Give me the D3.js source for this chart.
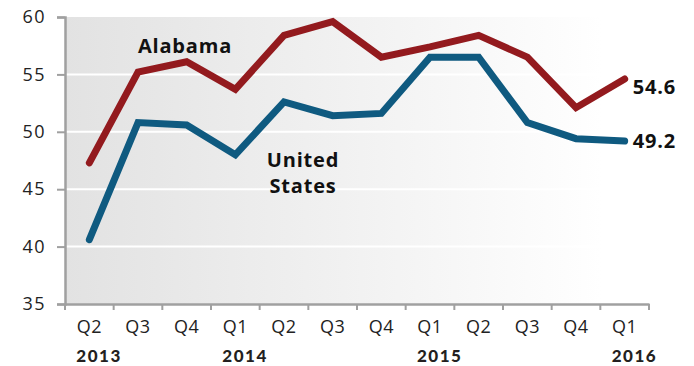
<!DOCTYPE html>
<meta charset="utf-8">
<script src="https://d3js.org/d3.v7.min.js"></script>
<style>
  body { margin: 0; background: #fff; }
  text { font-family: "Open Sans", sans-serif; }
</style>
<svg id="chart" width="694" height="366"></svg>
<script>
    // Data
    const quarters = ["Q2", "Q3", "Q4", "Q1", "Q2", "Q3", "Q4", "Q1", "Q2", "Q3", "Q4", "Q1"];
    const years = ["2013", "", "", "2014", "", "", "", "2015", "", "", "", "2016"];
    const alabama = [47.3, 55.2, 56.1, 53.7, 58.4, 59.6, 56.5, 57.4, 58.4, 56.5, 52.1, 54.6];
    const unitedStates = [40.6, 50.8, 50.6, 48.0, 52.6, 51.4, 51.6, 56.5, 56.5, 50.8, 49.4, 49.2];
    const yTicks = [35, 40, 45, 50, 55, 60];

    const svg = d3.select("#chart");
    const plotLeft = 65, plotRight = 649, plotTop = 17, plotBottom = 304;

    const x = d3.scaleBand()
      .domain(d3.range(quarters.length))
      .range([plotLeft, plotRight]);
    const y = d3.scaleLinear()
      .domain([35, 60])
      .range([plotBottom, plotTop]);

    // background gradient
    const grad = svg.append("defs").append("linearGradient")
      .attr("id", "bg")
      .attr("x1", "0%").attr("x2", "100%");
    grad.append("stop").attr("offset", "0%").attr("stop-color", "#e2e2e2");
    grad.append("stop").attr("offset", "92%").attr("stop-color", "#ffffff");

    svg.append("rect")
      .attr("x", plotLeft).attr("y", plotTop)
      .attr("width", plotRight - plotLeft).attr("height", plotBottom - plotTop)
      .attr("fill", "url(#bg)");

    // gridlines
    svg.append("g")
      .selectAll("line")
      .data(yTicks.slice(1, -1))
      .join("line")
        .attr("x1", plotLeft).attr("x2", plotRight)
        .attr("y1", d => y(d)).attr("y2", d => y(d))
        .attr("stroke", "#fff")
        .attr("stroke-width", 2);

    // y axis
    const yAxis = svg.append("g")
      .attr("transform", `translate(${plotLeft},0)`)
      .call(d3.axisLeft(y).tickValues(yTicks).tickSize(8).tickPadding(11));
    yAxis.select(".domain").attr("stroke", "#a0a0a0").attr("stroke-width", 2.5);
    yAxis.selectAll(".tick line").attr("stroke", "#a0a0a0").attr("stroke-width", 2);
    yAxis.selectAll("text").attr("font-size", 18).attr("fill", "#222")
      .attr("letter-spacing", 1.5)
      .style("font-family", "'Open Sans', sans-serif");

    // x axis
    const xAxis = svg.append("g")
      .attr("transform", `translate(0,${plotBottom})`)
      .call(d3.axisBottom(x).tickSize(0).tickFormat(i => quarters[i]).tickPadding(16));
    xAxis.select(".domain").attr("stroke", "#a0a0a0").attr("stroke-width", 2.5);
    xAxis.selectAll("text").attr("font-size", 18).attr("fill", "#222")
      .attr("letter-spacing", 0.5)
      .style("font-family", "'Open Sans', sans-serif");

    // x tick marks at band boundaries
    svg.append("g")
      .selectAll("line")
      .data(d3.range(quarters.length + 1))
      .join("line")
        .attr("x1", i => plotLeft + i * x.bandwidth())
        .attr("x2", i => plotLeft + i * x.bandwidth())
        .attr("y1", plotBottom).attr("y2", plotBottom + 6)
        .attr("stroke", "#a0a0a0")
        .attr("stroke-width", 2);

    // year labels
    svg.append("g")
      .selectAll("text")
      .data(years.map((t, i) => ({t, i})).filter(d => d.t))
      .join("text")
        .attr("x", d => x(d.i) + x.bandwidth() / 2 - 13)
        .attr("y", 362)
        .attr("font-size", 17)
        .attr("font-weight", 900)
        .attr("letter-spacing", 1.5)
        .attr("fill", "#231f20")
        .style("font-family", "Lato, sans-serif")
        .text(d => d.t);

    // lines
    const line = d3.line()
      .x((d, i) => x(i) + x.bandwidth() / 2)
      .y(d => y(d));

    svg.append("path")
      .datum(alabama)
      .attr("d", line)
      .attr("fill", "none")
      .attr("stroke", "#931a1e")
      .attr("stroke-width", 7)
      .attr("stroke-linecap", "round")
      .attr("stroke-linejoin", "miter");

    svg.append("path")
      .datum(unitedStates)
      .attr("d", line)
      .attr("fill", "none")
      .attr("stroke", "#0f5a80")
      .attr("stroke-width", 7)
      .attr("stroke-linecap", "round")
      .attr("stroke-linejoin", "miter");

    // labels
    const lbl = (tx, ty, t, anchor) => svg.append("text")
      .attr("x", tx).attr("y", ty)
      .attr("text-anchor", anchor || "start")
      .attr("font-size", 20)
      .attr("font-weight", "bold")
      .attr("letter-spacing", 0.8)
      .attr("fill", "#111")
      .text(t);

    lbl(185, 53, "Alabama", "middle");
    lbl(303, 167, "United", "middle");
    lbl(303, 193, "States", "middle");

    const last = quarters.length - 1;
    lbl(x(last) + x.bandwidth() / 2 + 8, y(alabama[last]) + 15, alabama[last].toFixed(1));
    lbl(x(last) + x.bandwidth() / 2 + 8, y(unitedStates[last]) + 7, unitedStates[last].toFixed(1));
</script>
